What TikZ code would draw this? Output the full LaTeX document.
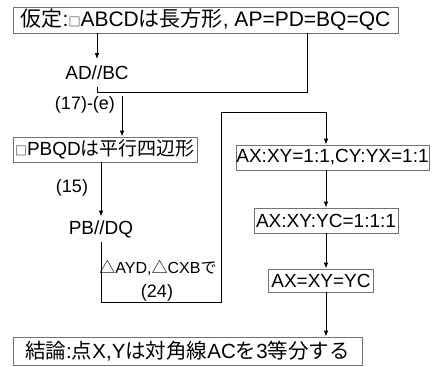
\documentclass[tikz,border=0pt]{standalone}
\usepackage{fontspec}
\setmainfont{Liberation Sans}
\newfontfamily\jpfont{Noto Sans CJK JP}
\newcommand\jpt[1]{{\jpfont #1}}
\newcommand\sqr{{\jpfont\fontsize{12}{12}\selectfont □}}
\newcommand\tri{{\jpfont △}}
\usetikzlibrary{arrows.meta}
\begin{document}
\begin{tikzpicture}[x=1pt,y=-1pt,
  box/.style={draw=black!55, line width=0.8pt, inner sep=0pt, minimum height=25pt, font=\fontsize{19}{19}\selectfont},
  txt/.style={inner sep=0pt, font=\fontsize{19}{19}\selectfont},
  lbl/.style={inner sep=0pt, font=\fontsize{18}{18}\selectfont},
  arr/.style={-{Latex[length=6pt,width=4.5pt]}},
  line width=0.8pt]
\useasboundingbox (0,0) rectangle (432,367);
% nodes
\node[box, minimum width=385pt, minimum height=26pt, font=\fontsize{21}{21}\selectfont] (top) at (205.5,20)
  {\jpt{仮定}:\sqr ABCD\jpt{は長方形}, AP=PD=BQ=QC};
\node[txt, minimum height=27pt] (adbc) at (97,73) {AD//BC};
\node[box, minimum width=184pt] (pbqd) at (105,149.5) {\sqr PBQD\jpt{は平行四辺形}};
\node[txt, minimum height=25pt] (pbdq) at (101,229.5) {PB//DQ};
\node[box, minimum width=193pt] (axxy) at (332.5,157.5) {AX:XY=1:1,CY:YX=1:1};
\node[box, minimum width=144pt] (axxyyc) at (326,220.5) {AX:XY:YC=1:1:1};
\node[box, minimum width=105pt, minimum height=23pt] (axeq) at (321,280.5) {AX=XY=YC};
\node[box, minimum width=349pt, minimum height=28pt, font=\fontsize{20.5}{20.5}\selectfont] (concl) at (187.5,351)
  {\jpt{結論}:\jpt{点}X,Y\jpt{は対角線}AC\jpt{を}3\jpt{等分する}};
% labels
\node[lbl] (l17) at (85,105) {(17)-(e)};
\node[lbl] (l15) at (72,188) {(15)};
\node[lbl, font=\fontsize{16}{16}\selectfont] (ltri) at (158,268) {\tri AYD,\tri CXB\jpt{で}};
\node[lbl] (l24) at (157,293) {(24)};
% junction points
\coordinate (j1) at (307,92.5);
\coordinate (j2) at (122,96);
\coordinate (c1) at (221.7,302.7);
\coordinate (c2) at (221.7,112);
\coordinate (c3) at (326,112);
% connectors
\draw[arr] (top.south -| adbc.north) -- (adbc.north);
\draw (top.south -| j1) -- (j1) -- (j1 -| adbc.south) -- (adbc.south);
\draw[arr] (j2) -- (j2 |- pbqd.north);
\draw[arr] (pbqd.south -| pbdq.north) -- (pbdq.north);
\draw[arr] (pbdq.south) -- (pbdq.south |- c1) -- (c1) -- (c2) -- (c3) -- (c3 |- axxy.north);
\draw[arr] (c3 |- axxy.south) -- (c3 |- axxyyc.north);
\draw[arr] (c3 |- axxyyc.south) -- (c3 |- axeq.north);
\draw[arr] (c3 |- axeq.south) -- (c3 |- concl.north);
\end{tikzpicture}
\end{document}
